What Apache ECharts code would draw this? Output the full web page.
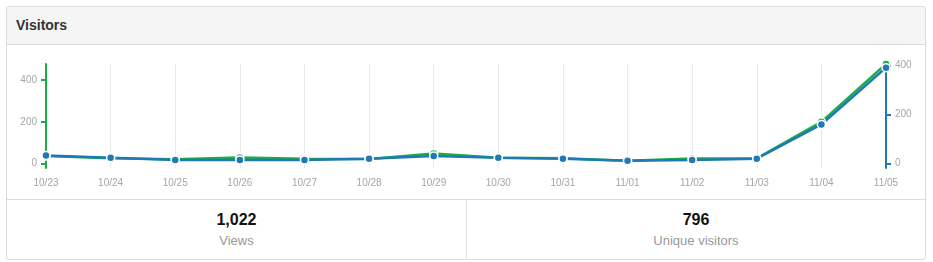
<!DOCTYPE html>
<html>
<head>
<meta charset="utf-8">
<script src="https://cdn.jsdelivr.net/npm/echarts@6/dist/echarts.min.js"></script>
<style>
  html, body { margin: 0; padding: 0; width: 933px; height: 262px; background: #fff; overflow: hidden; font-family: "Liberation Sans", Arial, sans-serif; }
  #panel { position: absolute; left: 6px; top: 6px; width: 918px; height: 252px; border: 1px solid #dcdcdc; border-radius: 3px; background: #fff; }
  #head { position: absolute; left: 0; top: 0; width: 918px; height: 37px; background: #f5f5f5; border-bottom: 1px solid #dcdcdc; border-radius: 3px 3px 0 0; }
  #title { position: absolute; left: 9px; top: 10px; font-size: 14px; font-weight: bold; color: #333; }
  #foot { position: absolute; left: 0; top: 192px; width: 918px; height: 60px; border-top: 1px solid #dcdcdc; }
  .stat { position: absolute; top: 0; height: 60px; text-align: center; }
  .num { position: absolute; left: 0; right: 0; top: 11px; font-size: 16px; font-weight: bold; color: #111; }
  .lab { position: absolute; left: 0; right: 0; top: 33px; font-size: 13px; color: #999; }
  #chart { position: absolute; left: 0; top: 0; width: 933px; height: 262px; }
</style>
</head>
<body>
<div id="panel">
  <div id="head"><div id="title">Visitors</div></div>
  <div id="foot">
    <div class="stat" style="left:0;width:459px;border-right:1px solid #e3e3e3;"><div class="num" id="v1"></div><div class="lab" id="l1"></div></div>
    <div class="stat" style="left:460px;width:458px;"><div class="num" id="v2"></div><div class="lab" id="l2"></div></div>
  </div>
</div>
<div id="chart"></div>
<script>
const categories = ["10/23","10/24","10/25","10/26","10/27","10/28","10/29","10/30","10/31","11/01","11/02","11/03","11/04","11/05"];
const views = [36, 25, 20, 29, 23, 21, 48, 27, 25, 13, 24, 24, 200, 478];
const uniqueVisitors = [33, 24, 15, 15, 15, 20, 31, 24, 20, 12, 15, 20, 160, 392];
const leftTicks = [0, 200, 400];
const rightTicks = [0, 200, 400];
const totalViews = "1,022";
const totalUnique = "796";
const statLabels = ["Views", "Unique visitors"];

document.getElementById('v1').textContent = totalViews;
document.getElementById('v2').textContent = totalUnique;
document.getElementById('l1').textContent = statLabels[0];
document.getElementById('l2').textContent = statLabels[1];

const GREEN = '#1dab4a';
const BLUE = '#1f79b5';
const chart = echarts.init(document.getElementById('chart'), null, { renderer: 'canvas' });
const labelStyle = { color: '#a6a6a6', fontSize: 10, fontFamily: 'Liberation Sans, Arial, sans-serif' };
chart.setOption({
  animation: false,
  backgroundColor: 'transparent',
  grid: { left: 46, right: 47, top: 64, bottom: 94, containLabel: false },
  xAxis: {
    type: 'category',
    data: categories,
    boundaryGap: false,
    axisLine: { show: false },
    axisTick: { show: false },
    axisLabel: Object.assign({ margin: 10, interval: 0 }, labelStyle),
    splitLine: { show: true, interval: 0, lineStyle: { color: '#e9e9e9', width: 1 } }
  },
  yAxis: [
    {
      type: 'value', position: 'left', min: -22, max: 478,
      axisLine: { show: true, lineStyle: { color: GREEN, width: 2 } },
      axisTick: { show: true, length: 5, customValues: leftTicks, lineStyle: { color: GREEN, width: 2 } },
      axisLabel: Object.assign({ margin: 9, customValues: leftTicks }, labelStyle),
      splitLine: { show: false }
    },
    {
      type: 'value', position: 'right', min: -18, max: 407,
      axisLine: { show: true, lineStyle: { color: BLUE, width: 2 } },
      axisTick: { show: true, length: 5, customValues: rightTicks, lineStyle: { color: BLUE, width: 2 } },
      axisLabel: Object.assign({ margin: 9, customValues: rightTicks }, labelStyle),
      splitLine: { show: false }
    }
  ],
  series: [
    {
      name: 'Views', type: 'line', yAxisIndex: 0, data: views,
      symbol: 'circle', symbolSize: 8, clip: false,
      lineStyle: { color: GREEN, width: 2.5 },
      itemStyle: { color: GREEN, borderColor: '#fff', borderWidth: 1.5 }
    },
    {
      name: 'Unique visitors', type: 'line', yAxisIndex: 1, data: uniqueVisitors,
      symbol: 'circle', symbolSize: 8, clip: false,
      lineStyle: { color: BLUE, width: 2.5 },
      itemStyle: { color: BLUE, borderColor: '#fff', borderWidth: 1.5 }
    }
  ]
});
</script>
</body>
</html>
